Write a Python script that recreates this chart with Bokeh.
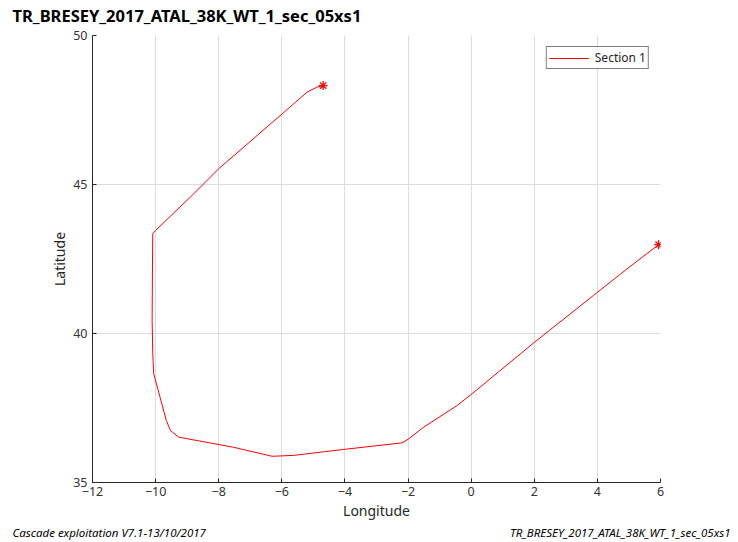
from bokeh.plotting import figure
from bokeh.layouts import column
from bokeh.models import Range1d, FixedTicker, Legend, LegendItem
from bokeh.core.properties import value
from bokeh.embed import file_html
from bokeh.resources import INLINE

title_text = "TR_BRESEY_2017_ATAL_38K_WT_1_sec_05xs1"
footer_left = "Cascade exploitation V7.1-13/10/2017"
footer_right = "TR_BRESEY_2017_ATAL_38K_WT_1_sec_05xs1"
x_ticks = [-12, -10, -8, -6, -4, -2, 0, 2, 4, 6]
y_ticks = [35, 40, 45, 50]

lon = [5.94, 4.94, 3.88, 2.01, 0.03, -0.45, -1.50, -2.00, -2.19, -4.04, -5.62, -6.31,
       -7.52, -9.26, -9.53, -9.66, -10.06, -10.09, -10.11, -10.10, -10.09, -10.00,
       -8.79, -8.00, -5.99, -5.20, -4.88, -4.69]
lat = [42.98, 42.17, 41.28, 39.71, 37.98, 37.58, 36.86, 36.45, 36.33, 36.11, 35.91, 35.88,
       36.18, 36.52, 36.74, 37.08, 38.65, 39.32, 40.44, 42.20, 43.35, 43.46,
       44.69, 45.53, 47.37, 48.10, 48.27, 48.32]
end_lon = [lon[0], lon[-1]]
end_lat = [lat[0], lat[-1]]

FONT = "Noto Sans"
AX = "#262626"
W = 738


def text_strip(height):
    f = figure(width=W, height=height, output_backend="svg", toolbar_location=None,
               x_range=Range1d(0, W), y_range=Range1d(0, height),
               min_border=0, min_border_left=0, min_border_right=0,
               min_border_top=0, min_border_bottom=0, frame_align=False)
    f.axis.visible = False
    f.grid.visible = False
    f.outline_line_color = None
    return f


# header with title
head = text_strip(27)
head.text(x=[12], y=[12], text=[title_text], text_font=value(FONT),
          text_font_style="bold", text_font_size="16.5px", text_color="black",
          text_baseline="middle", text_align="left")

# main plot
p = figure(width=W, height=495, output_backend="svg", toolbar_location=None,
           x_range=Range1d(-12, 6), y_range=Range1d(35, 50),
           min_border_left=92, min_border_right=78, min_border_top=8, min_border_bottom=40,
           x_axis_label="Longitude", y_axis_label="Latitude", frame_align=False)
p.outline_line_color = None

for ax in [p.xaxis[0], p.yaxis[0]]:
    ax.major_tick_in = 4
    ax.major_tick_out = 0
    ax.minor_tick_in = 0
    ax.minor_tick_out = 0
    ax.axis_line_color = AX
    ax.major_tick_line_color = AX
    ax.major_label_text_color = "#333333"
    ax.major_label_text_font = FONT
    ax.major_label_text_font_size = "12.5px"
    ax.axis_label_text_font = FONT
    ax.axis_label_text_font_size = "14px"
    ax.axis_label_text_font_style = "normal"
    ax.axis_label_text_color = AX
p.xaxis[0].ticker = FixedTicker(ticks=x_ticks)
p.yaxis[0].ticker = FixedTicker(ticks=y_ticks)
p.xaxis[0].major_label_standoff = 4
p.xaxis[0].axis_label_standoff = 2
p.yaxis[0].axis_label_standoff = 1

p.xgrid.ticker = FixedTicker(ticks=x_ticks)
p.ygrid.ticker = FixedTicker(ticks=y_ticks)
p.grid.grid_line_color = "#dcdcdc"
p.grid.grid_line_width = 1

r = p.line(lon, lat, line_color="red", line_width=1)
p.scatter(end_lon, end_lat, marker="asterisk", size=9, line_color="red", line_width=1.3)

legend = Legend(items=[LegendItem(label="Section 1", renderers=[r])], location="top_right")
legend.border_line_color = "black"
legend.border_line_width = 1
legend.label_text_font = FONT
legend.label_text_font_size = "12px"
legend.label_text_color = AX
legend.glyph_width = 40
legend.glyph_height = 12
legend.padding = 2
legend.margin = 11
legend.spacing = 0
legend.label_height = 12
legend.label_standoff = 6
p.add_layout(legend, "center")

# footer
foot = text_strip(20)
foot.text(x=[12], y=[10], text=[footer_left], text_font=value(FONT),
          text_font_style="italic", text_font_size="11.5px", text_color="black",
          text_baseline="middle", text_align="left")
foot.text(x=[730], y=[10], text=[footer_right], text_font=value(FONT),
          text_font_style="italic", text_font_size="11.5px", text_color="black",
          text_baseline="middle", text_align="right")

layout = column(head, p, foot, spacing=0)
open("out.html", "w").write(file_html(layout, INLINE))
